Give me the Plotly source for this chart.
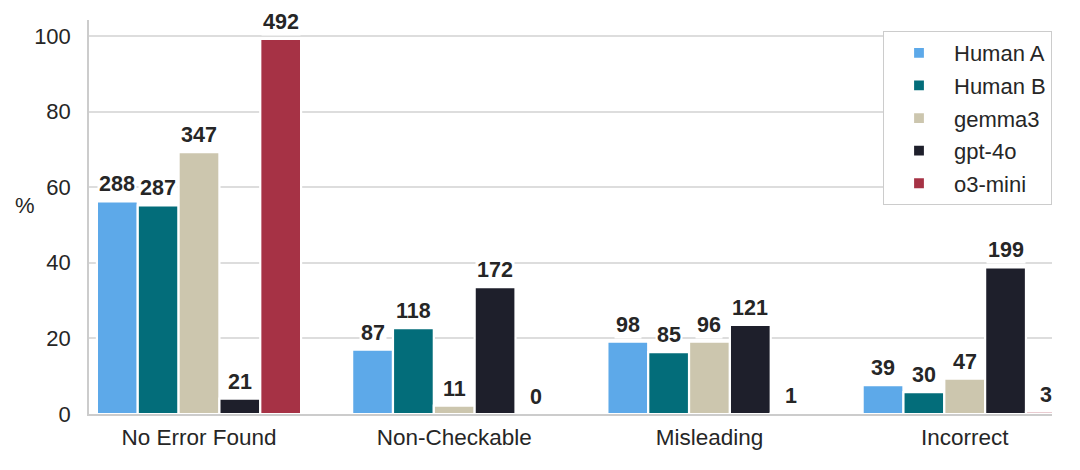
import plotly.graph_objects as go

categories = ["No Error Found", "Non-Checkable", "Misleading", "Incorrect"]
series_names = ["Human A", "Human B", "gemma3", "gpt-4o", "o3-mini"]

# percentage values (bar heights)
human_a_pct = [56.25, 16.99, 19.14, 7.62]
human_b_pct = [55.19, 22.69, 16.35, 5.77]
gemma3_pct = [69.26, 2.20, 19.16, 9.38]
gpt4o_pct = [4.09, 33.53, 23.59, 38.79]
o3mini_pct = [99.19, 0.0, 0.20, 0.60]

# counts (bar labels)
human_a_cnt = [288, 87, 98, 39]
human_b_cnt = [287, 118, 85, 30]
gemma3_cnt = [347, 11, 96, 47]
gpt4o_cnt = [21, 172, 121, 199]
o3mini_cnt = [492, 0, 1, 3]

y_ticks = [0, 20, 40, 60, 80, 100]

colors = ["#5DA9E9", "#036D7A", "#CCC6AE", "#1E1F2B", "#A63245"]
pcts = [human_a_pct, human_b_pct, gemma3_pct, gpt4o_pct, o3mini_pct]
cnts = [human_a_cnt, human_b_cnt, gemma3_cnt, gpt4o_cnt, o3mini_cnt]

FONT = "Liberation Sans, Arial, sans-serif"
TXT = "#262626"
BAR_W = 0.16

fig = go.Figure()
annotations = []
for k, (name, p, c, col) in enumerate(zip(series_names, pcts, cnts, colors)):
    fig.add_trace(go.Bar(
        x=categories, y=p, name=name, legendgroup=name,
        marker=dict(color=col, line=dict(color="white", width=2.2)),
        hoverinfo="skip",
    ))
    for i, (v, n) in enumerate(zip(p, c)):
        annotations.append(dict(
            x=i + (k - 2) * BAR_W, y=v, xref="x", yref="y",
            text=f"<b>{n}</b>", showarrow=False,
            yanchor="bottom", xanchor="center", yshift=3,
            bgcolor="white", borderpad=1,
            font=dict(family=FONT, size=21.5, color=TXT),
        ))

annotations.append(dict(
    x=-0.0665, y=0.528, xref="paper", yref="paper", text="%", showarrow=False,
    xanchor="center", yanchor="middle",
    font=dict(family=FONT, size=22, color=TXT),
))

fig.update_layout(
    width=1064, height=454,
    margin=dict(l=81, r=20, t=12, b=46),
    paper_bgcolor="white", plot_bgcolor="white",
    barmode="group", bargap=0.2, bargroupgap=0,
    font=dict(family=FONT, size=22, color=TXT),
    annotations=annotations,
    showlegend=True,
    legend=dict(
        x=1.0, y=0.972, xanchor="right", yanchor="top",
        bgcolor="white", bordercolor="#CCCCCC", borderwidth=1,
        font=dict(family=FONT, size=22, color=TXT),
        itemwidth=60, tracegroupgap=1, traceorder="grouped",
    ),
    xaxis=dict(
        type="category", range=[-0.431, 3.342],
        showgrid=False, showline=True, linecolor="#CCCCCC", linewidth=1.5,
        ticks="", tickfont=dict(family=FONT, size=22.5, color=TXT),
        ticklabelstandoff=2, zeroline=False,
    ),
    yaxis=dict(
        range=[0, 104.2], tickvals=y_ticks,
        showgrid=True, gridcolor="#DDDDDD", gridwidth=1.5,
        showline=True, linecolor="#CCCCCC", linewidth=1.5,
        ticks="", tickfont=dict(family=FONT, size=22, color=TXT),
        ticklabelstandoff=12, zeroline=False,
    ),
)

fig.write_html("out.html")
